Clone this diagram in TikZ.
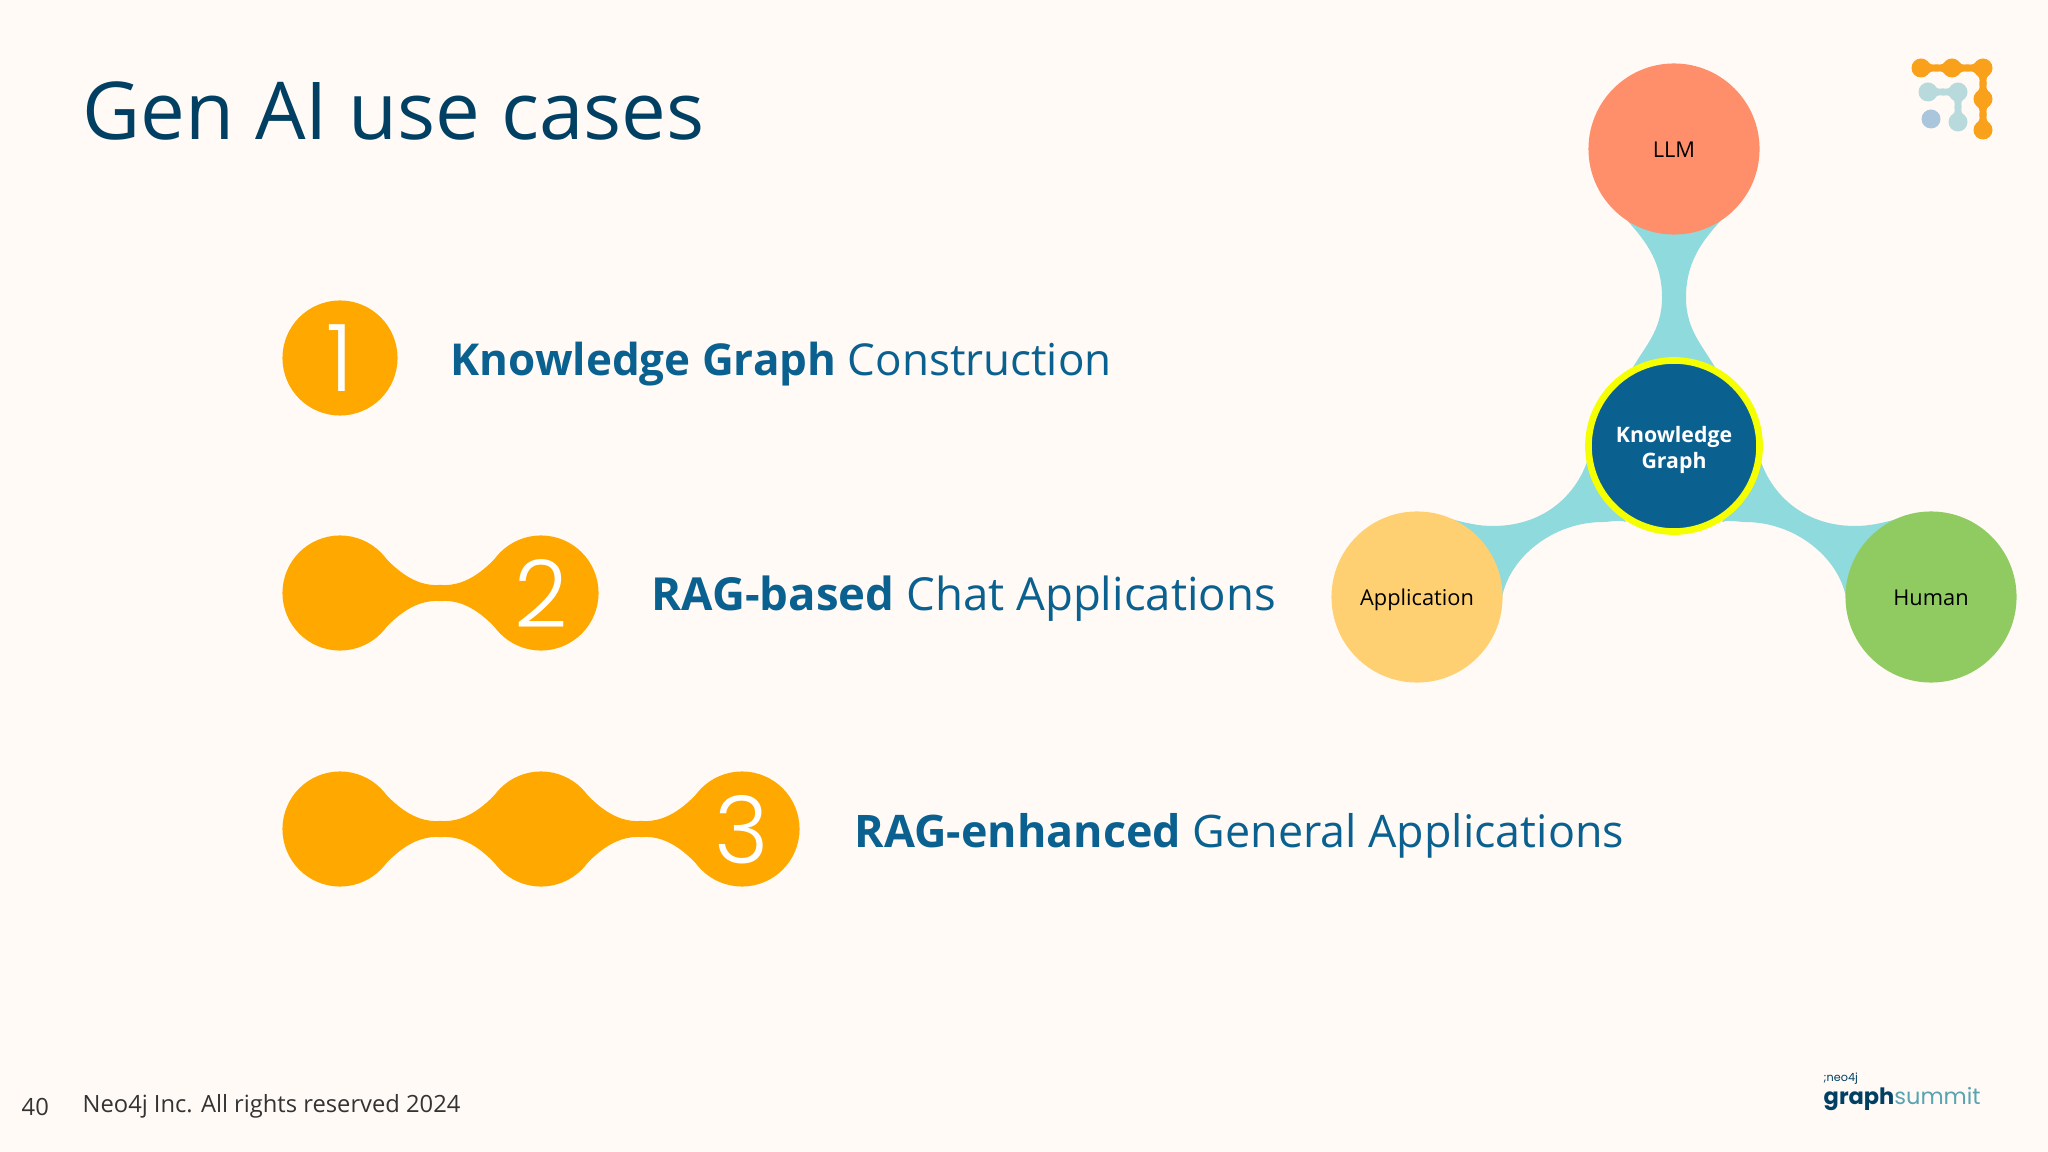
\documentclass[tikz,border=0pt]{standalone}
\usepackage{fontspec}
\setmainfont{Open Sans}
\newfontfamily\digitfont{Poppins Light}
\newfontfamily\logofont{Poppins}
\usetikzlibrary{calc,backgrounds}
\definecolor{pagebg}{HTML}{FFFAF6}
\definecolor{titleblue}{HTML}{014063}
\definecolor{bodyblue}{HTML}{0A6190}
\definecolor{blobamber}{HTML}{FFA800}
\definecolor{linkteal}{HTML}{8FDADC}
\definecolor{llmred}{HTML}{FF8E6B}
\definecolor{appyellow}{HTML}{FFD071}
\definecolor{humangreen}{HTML}{90CB62}
\definecolor{ringyellow}{HTML}{F5FF00}
\definecolor{logoamber}{HTML}{F9A11B}
\definecolor{logopale}{HTML}{B9DADC}
\definecolor{logoblue}{HTML}{A9C6DC}
\definecolor{logoteal}{HTML}{5AA3B0}
\tikzset{
  blob/.style={circle,fill=blobamber,minimum size=1.15cm,inner sep=0pt,outer sep=0pt,text=white,font=\digitfont\fontsize{26.5}{26.5}\selectfont},
  topic/.style={circle,minimum size=1.71cm,inner sep=0pt,outer sep=0pt,text=black,font=\fontsize{6.2}{7.2}\selectfont},
  usecase/.style={anchor=west,inner sep=0pt,text=bodyblue},
  logodot/.style={circle,minimum size=0.19cm,inner sep=0pt,outer sep=0pt},
  footer/.style={anchor=west,inner sep=0pt,text=black!80,font=\fontsize{6.75}{8}\selectfont},
}
\newcommand{\nudged}[2]{\raisebox{-#1}[0.7em][0.2em]{#2}}
% neck between two round blobs
\newcommand{\blobjoin}[4]{%
  \fill[#3] ($(#1)!.283!45:(#2)$) .. controls ($(#1)!.295!28:(#2)$) and ($(#1)!.36!#4:(#2)$) .. ($(#1)!.5!#4:(#2)$)
    .. controls ($(#2)!.36!-#4:(#1)$) and ($(#2)!.295!-28:(#1)$) .. ($(#2)!.283!-45:(#1)$)
    -- ($(#2)!.283!45:(#1)$) .. controls ($(#2)!.295!28:(#1)$) and ($(#2)!.36!#4:(#1)$) .. ($(#2)!.5!#4:(#1)$)
    .. controls ($(#1)!.36!-#4:(#2)$) and ($(#1)!.295!-28:(#2)$) .. ($(#1)!.283!-45:(#2)$) -- cycle;}
% curved arm from a lower topic up to the centre
\newcommand{\branchjoin}[2]{%
  \fill[linkteal] ($(#1)+(#2*34,-78)$) .. controls +(#2*15,4) and +(#2*-15,0) .. ($(#1)+(#2*76,-71)$)
    .. controls +(#2*50,0) and +(#2*-12,37) .. ($(kg)+(#2*-86,13)$)
    -- ($(kg)+(#2*-48,76)$) .. controls +(#2*-10,-3) and +(#2*10,0) .. ($(kg)+(#2*-71,76)$)
    .. controls +(#2*-50,0) and +(#2*8,-40) .. ($(#1)+(#2*85,0)$) -- cycle;}

\begin{document}
\begin{tikzpicture}[x=0.01cm,y=-0.01cm]
\useasboundingbox (0,0) rectangle (2048,1152);
% title and footer
\node (title) [anchor=west,inner sep=0pt,text=titleblue,font=\fontsize{22.7}{26}\selectfont] at (82,111) {Gen AI use cases};
\node (pageno) [footer] at (21,1107) {40};
\node (rights) [footer] at (82,1106) {Neo4j Inc. All rights reserved 2024};
% use cases
\node (oneA) [blob] at (340,358) {1};
\node (twoA) [blob] at (340,593) {};
\node (twoB) [blob] at (541,593) {\nudged{3.1pt}{2}};
\node (threeA) [blob] at (340,829) {};
\node (threeB) [blob] at (541,829) {};
\node (threeC) [blob] at (742,829) {\nudged{3.1pt}{3}};
\node (caseone) [usecase,font=\fontsize{12.5}{15}\selectfont] at (450,364) {\textbf{Knowledge Graph} Construction};
\node (casetwo) [usecase,font=\fontsize{12.95}{15}\selectfont] at (651,599) {\textbf{RAG-based} Chat Applications};
\node (casethree) [usecase,font=\fontsize{12.75}{15}\selectfont] at (854,836) {\textbf{RAG-enhanced} General Applications};
% topics
\node (llm) [topic,fill=llmred] at (1674,149) {\nudged{0.8pt}{LLM}};
\node (app) [topic,fill=appyellow] at (1417,597) {\nudged{1pt}{Application}};
\node (hum) [topic,fill=humangreen] at (1931,597) {\nudged{1pt}{Human}};
\node (kg) [topic,fill=bodyblue,draw=ringyellow,line width=1.9pt] at (1674,446) {};
\node (kgtext) [text=white,align=center,inner sep=0pt,font=\bfseries\fontsize{6.05}{7.2}\selectfont] at (1674,450) {Knowledge\\Graph};
% logo top right
\node (la) [logodot,fill=logoamber] at (1921,68) {};
\node (lb) [logodot,fill=logoamber] at (1952,68) {};
\node (lc) [logodot,fill=logoamber] at (1983,68) {};
\node (ld) [logodot,fill=logoamber] at (1983,99) {};
\node (le) [logodot,fill=logoamber] at (1983,130) {};
\node (lf) [logodot,fill=logopale] at (1928,92) {};
\node (lg) [logodot,fill=logopale] at (1958,92) {};
\node (lh) [logodot,fill=logopale] at (1958,122) {};
\node (li) [logodot,fill=logoblue] at (1931,119) {};
% logo bottom right
\node (neofour) [anchor=west,inner sep=0pt,text=titleblue,font=\logofont\fontsize{3.2}{4}\selectfont] at (1823,1079) {;neo4j};
\node (summit) [anchor=west,inner sep=0pt,text=logoteal,font=\logofont\fontsize{6.4}{8}\selectfont] at (1823,1099) {\textcolor{titleblue}{\bfseries graph}summit};
\begin{scope}[on background layer]
\fill[pagebg] (0,0) rectangle (2048,1152);
\blobjoin{twoA}{twoB}{blobamber}{4.6}
\blobjoin{threeA}{threeB}{blobamber}{4.6}
\blobjoin{threeB}{threeC}{blobamber}{4.6}
\blobjoin{la}{lb}{logoamber}{14}
\blobjoin{lb}{lc}{logoamber}{14}
\blobjoin{lc}{ld}{logoamber}{14}
\blobjoin{ld}{le}{logoamber}{14}
\blobjoin{lf}{lg}{logopale}{14}
\blobjoin{lg}{lh}{logopale}{14}
\fill[linkteal] (llm.-123) .. controls +(20,22) and +(0,-34) .. ($(llm)!.5!(kg)+(-12,0)$)
  .. controls +(0,34) and +(14,-26) .. (kg.121) -- (kg.59)
  .. controls +(-14,-26) and +(0,34) .. ($(llm)!.5!(kg)+(12,0)$)
  .. controls +(0,-34) and +(-20,22) .. (llm.-57) -- cycle;
\branchjoin{app}{1}
\branchjoin{hum}{-1}
\end{scope}
\end{tikzpicture}
\end{document}
